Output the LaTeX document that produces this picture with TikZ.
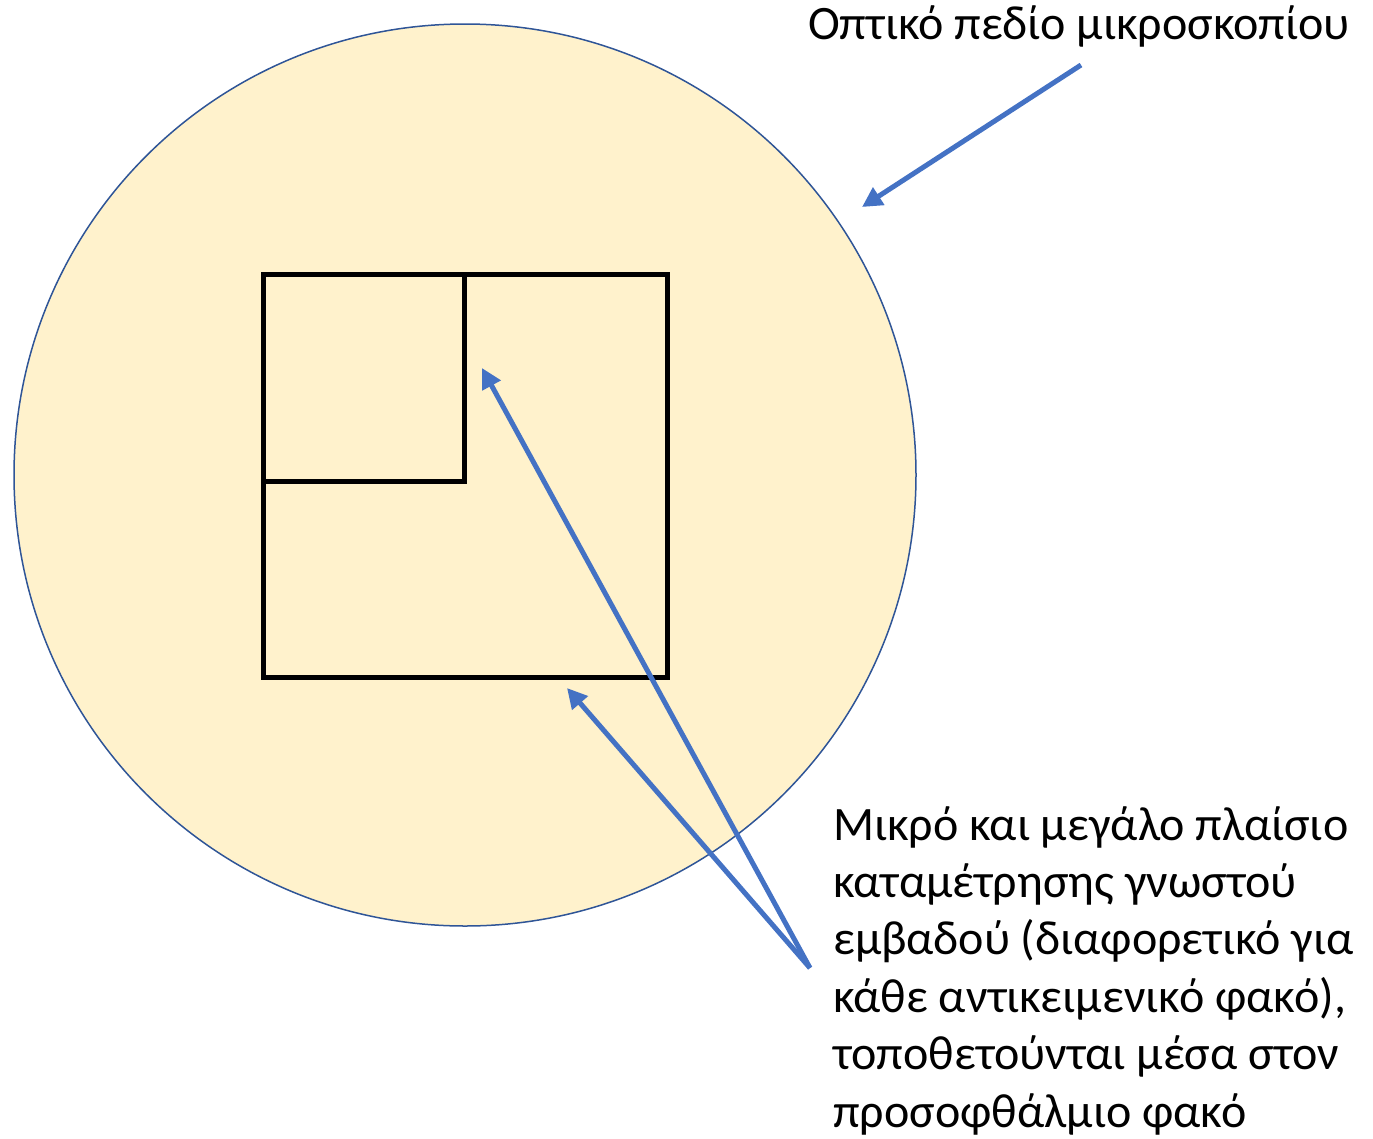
\documentclass[tikz,border=0pt]{standalone}
\usepackage{fontspec}
\setmainfont{Carlito}
\usetikzlibrary{arrows.meta}
\definecolor{fieldfill}{HTML}{FFF2CC}
\definecolor{fielddraw}{HTML}{2F5597}
\definecolor{arrowblue}{HTML}{4472C4}
\begin{document}
\begin{tikzpicture}[x=1pt,y=-1pt,
  label/.style={inner sep=0pt, font=\fontsize{48}{57.4}\selectfont, align=left},
  frame/.style={draw=black, line width=5pt},
  pointer/.style={draw=arrowblue, line width=5pt, -{Triangle[length=20pt,width=20pt]}}]
\useasboundingbox (0,0) rectangle (1373,1138);
% field of view
\node (field) [circle, draw=fielddraw, fill=fieldfill, line width=1.5pt, minimum size=902pt, inner sep=0pt] at (465,475) {};
% frames
\draw[frame] (263,274) rectangle (667,677);
\draw[frame] (263,274) rectangle (464,481);
% labels
\node (top) [label, anchor=base west] at (808,39) {Οπτικό πεδίο μικροσκοπίου};
\node (bottom) [label, anchor=base west] at (833,1127) {Μικρό και μεγάλο πλαίσιο\\καταμέτρησης γνωστού\\εμβαδού (διαφορετικό για\\κάθε αντικειμενικό φακό),\\τοποθετούνται μέσα στον\\προσοφθάλμιο φακό};
% arrow end points
\coordinate (topstart) at (1081,65);
\coordinate (fieldtip) at (862,207);
\coordinate (botstart) at (810,968);
\coordinate (smalltip) at (482,368);
\coordinate (bigtip) at (567,688);
\draw[pointer] (topstart) -- (fieldtip);
\draw[pointer] (botstart) -- (smalltip);
\draw[pointer] (botstart) -- (bigtip);
\end{tikzpicture}
\end{document}
